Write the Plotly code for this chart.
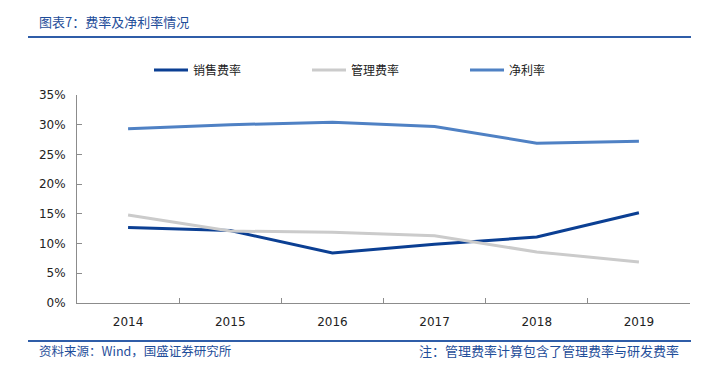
import plotly.graph_objects as go

years = ["2014", "2015", "2016", "2017", "2018", "2019"]
sales_rate = [12.7, 12.2, 8.4, 9.9, 11.1, 15.2]
admin_rate = [14.8, 12.1, 11.9, 11.3, 8.6, 6.9]
net_margin = [29.3, 30.0, 30.4, 29.7, 26.9, 27.2]
y_ticks = [0, 5, 10, 15, 20, 25, 30, 35]
y_ticktext = [f"{v}%" for v in y_ticks]

cjk = "Noto Sans CJK SC"
num_font = "DejaVu Sans"

# page body has an 8px margin; work in screen pixels and subtract it
OFF = 8
W, H = 710 - OFF, 376 - OFF
L, T = 77 - OFF, 95 - OFF
R, B = 710 - 690, 376 - 303
PW, PH = W - L - R, H - T - B


def px(xpix):
    return (xpix - OFF - L) / PW


def py(ypix):
    return (T + PH - (ypix - OFF)) / PH


fig = go.Figure()
fig.add_trace(go.Scatter(x=years, y=sales_rate, mode="lines", name="销售费率",
                         line=dict(color="#0B3F93", width=3)))
fig.add_trace(go.Scatter(x=years, y=admin_rate, mode="lines", name="管理费率",
                         line=dict(color="#CBCBCB", width=3)))
fig.add_trace(go.Scatter(x=years, y=net_margin, mode="lines", name="净利率",
                         line=dict(color="#4F81C4", width=3)))

fig.update_layout(
    width=W, height=H,
    margin=dict(l=L, r=R, t=T, b=B, autoexpand=False),
    paper_bgcolor="white", plot_bgcolor="white",
    showlegend=True,
    legend=dict(orientation="h", xref="container", yref="container",
                x=(149 - OFF) / W, xanchor="left", y=1 - (70 - OFF) / H, yanchor="middle",
                font=dict(family=cjk, size=12, color="#222"),
                itemwidth=34, tracegroupgap=0, entrywidthmode="pixels", entrywidth=109,
                bgcolor="rgba(0,0,0,0)"),
    xaxis=dict(type="category", range=[-0.5, 5.5], showline=True, linecolor="#8c8c8c",
               linewidth=1, ticks="inside", tickson="boundaries", ticklen=5,
               tickcolor="#8c8c8c", showgrid=False,
               tickfont=dict(family=num_font, size=12, color="#222"),
               ticklabelstandoff=8),
    yaxis=dict(range=[0, 35], tickvals=y_ticks, ticktext=y_ticktext, showline=True,
               linecolor="#8c8c8c", linewidth=1, ticks="inside", ticklen=5,
               tickcolor="#8c8c8c", showgrid=False, zeroline=False,
               tickfont=dict(family=num_font, size=12, color="#222"),
               ticklabelstandoff=8),
)

blue_txt = "#1F4E9A"
fig.add_annotation(text="图表7：费率及净利率情况", xref="paper", yref="paper",
                   x=px(37), y=py(22), xanchor="left", yanchor="middle",
                   showarrow=False, font=dict(family=cjk, size=13, color=blue_txt))
fig.add_shape(type="line", xref="paper", yref="paper",
              x0=px(28), x1=px(691), y0=py(37), y1=py(37),
              line=dict(color="#2F5DA8", width=2))
fig.add_shape(type="line", xref="paper", yref="paper",
              x0=px(28), x1=px(691), y0=py(341), y1=py(341),
              line=dict(color="#2F5DA8", width=2))
fig.add_annotation(text="资料来源：Wind，国盛证券研究所", xref="paper", yref="paper",
                   x=px(37), y=py(350), xanchor="left", yanchor="middle",
                   showarrow=False, font=dict(family=cjk, size=12.5, color=blue_txt))
fig.add_annotation(text="注：管理费率计算包含了管理费率与研发费率", xref="paper", yref="paper",
                   x=px(681), y=py(350), xanchor="right", yanchor="middle",
                   showarrow=False, font=dict(family=cjk, size=13, color=blue_txt))

fig.write_html("out.html")
